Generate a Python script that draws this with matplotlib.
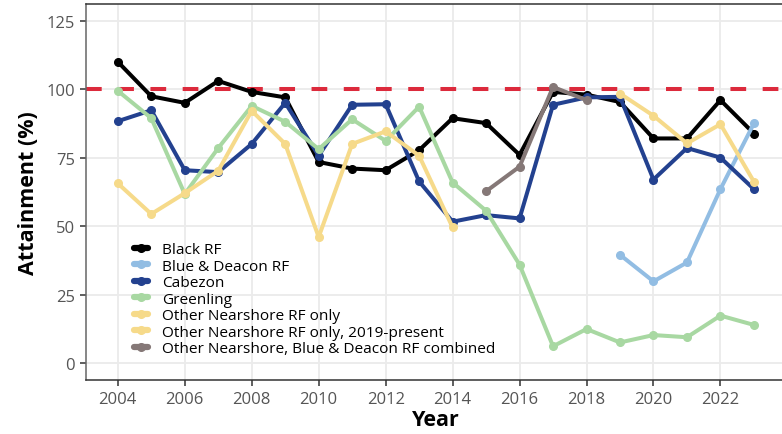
import matplotlib
matplotlib.use("Agg")
import matplotlib.pyplot as plt
from matplotlib.lines import Line2D
import numpy as np

plt.rcParams['font.family'] = ['Open Sans', 'DejaVu Sans']

years = list(range(2004, 2024))

black_rf = [110, 97.4, 95, 103, 99, 97, 73.4, 71, 70.4, 77.7, 89.4, 87.6, 76,
            99, 98, 95.3, 82, 82, 96, 83.8]
cabezon = [88.3, 92.3, 70.4, 69.7, 80, 95, 75.7, 94.3, 94.5, 66.3, 51.6, 54,
           52.8, 94.3, 97, 97.2, 67, 78.5, 75, 63.5]
greenling = [99.4, 89.4, 61.7, 78.5, 93.9, 88.1, 78.1, 89, 81.1, 93.6, 65.9,
             55.6, 35.9, 6.1, 12.4, 7.5, 10.2, 9.4, 17.3, 13.9]
bd_years = [2019, 2020, 2021, 2022, 2023]
blue_deacon = [39.5, 29.8, 36.7, 63.5, 87.5]
onrf_years = list(range(2004, 2015))
other_nrf = [65.6, 54.4, 62, 70.2, 92.1, 80, 46, 80, 84.6, 75.7, 49.5]
onrf19_years = [2019, 2020, 2021, 2022, 2023]
other_nrf_2019 = [98.4, 90.3, 80.2, 87.2, 66.2]
comb_years = [2015, 2016, 2017, 2018]
combined = [62.7, 71.7, 100.8, 96]

series = [
    ("Black RF", years, black_rf, "#000000"),
    ("Blue & Deacon RF", bd_years, blue_deacon, "#92BDE3"),
    ("Cabezon", years, cabezon, "#23418F"),
    ("Greenling", years, greenling, "#A8D8A2"),
    ("Other Nearshore RF only", onrf_years, other_nrf, "#F6DA8A"),
    ("Other Nearshore RF only, 2019-present", onrf19_years, other_nrf_2019, "#F6DA8A"),
    ("Other Nearshore, Blue & Deacon RF combined", comb_years, combined, "#857877"),
]

W, H = 782, 435
fig = plt.figure(figsize=(W / 100, H / 100), dpi=100)
x0, x1 = 2003.05, 2023.95
ppy = 33.48
left_px = 86
width_px = (x1 - x0) * ppy
top_px, bot_px = 4.6, 381.1
ax = fig.add_axes([left_px / W, 1 - bot_px / H, width_px / W, (bot_px - top_px) / H])
ax.set_xlim(x0, x1)
ax.set_ylim(-6.25, 131.25)

ax.set_xticks(range(2004, 2023, 2))
ax.set_yticks([0, 25, 50, 75, 100, 125])
ax.grid(True, color="#EBEBEB", linewidth=1.3, zorder=0)
ax.set_axisbelow(True)

ax.spines["right"].set_visible(False)
ax.spines["top"].set_color("#333333")
ax.spines["bottom"].set_color("#333333")
ax.spines["left"].set_color("#666666")
for sp in ["top", "bottom", "left"]:
    ax.spines[sp].set_linewidth(1.1)

ax.tick_params(axis="both", colors="#333333", length=4, width=1.1,
               labelsize=12, labelcolor="#555555", pad=4)

ax.axhline(100, color="#DC2A3C", linewidth=2.9, dashes=(3.9, 4.1), zorder=1)

handles = []
for i, (name, xs, ys, col) in enumerate(series):
    ax.plot(xs, ys, color=col, linewidth=2.9, marker="o", markersize=5.5,
            solid_capstyle="round", zorder=2 + i)
    handles.append(Line2D([0], [0], color=col, linewidth=4.5, marker="o",
                          markersize=5.5, solid_capstyle="round", label=name))

ax.set_xlabel("Year", fontsize=15.5, fontweight="bold", labelpad=1)
ax.set_ylabel("Attainment (%)", fontsize=15.5, fontweight="bold", labelpad=5)

leg = ax.legend(handles=handles, loc="upper left",
                bbox_to_anchor=((134 - left_px) / width_px, (bot_px - 243) / (bot_px - top_px)),
                frameon=False, fontsize=11.1, handlelength=0.9, handletextpad=0.9,
                labelspacing=0.1, borderpad=0, borderaxespad=0)

fig.savefig("out.png", dpi=100)
